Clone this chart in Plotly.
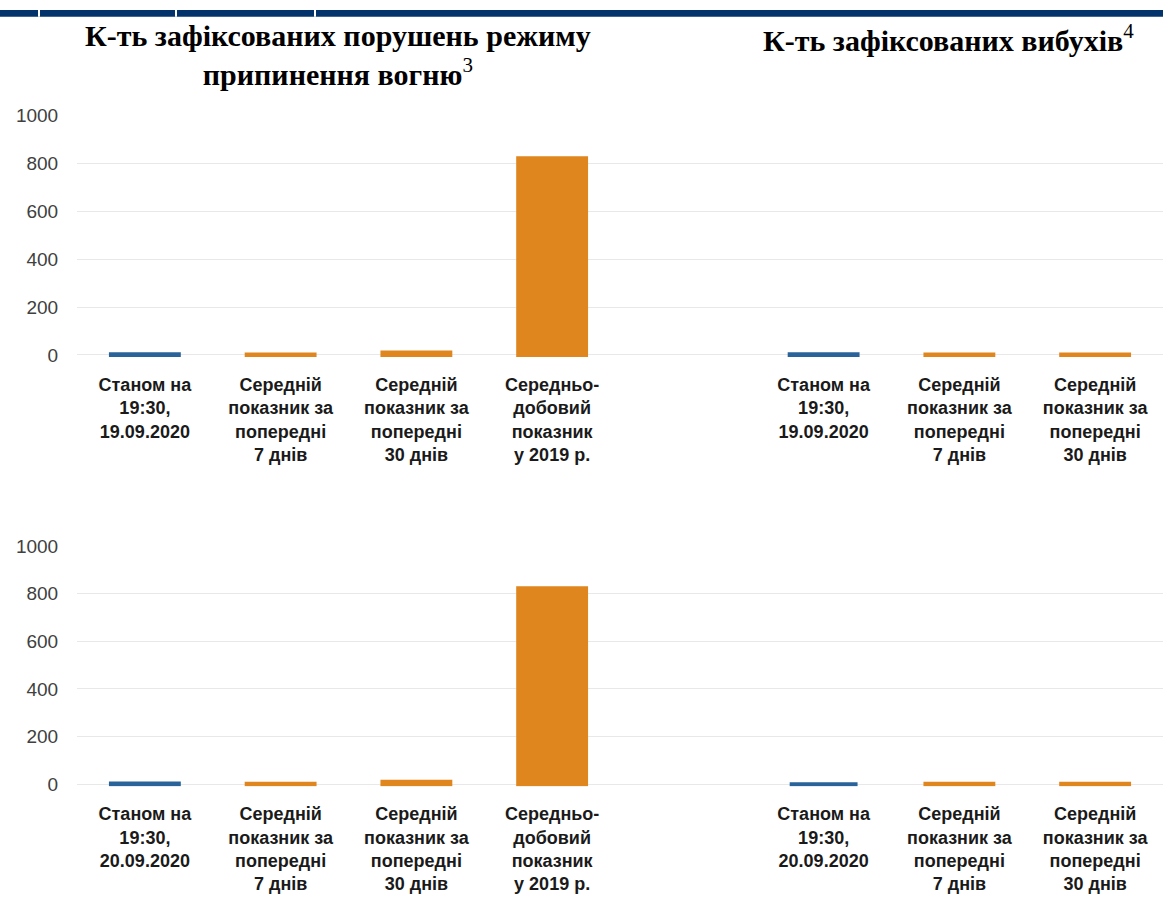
import plotly.graph_objects as go

# ---- data ----
labels_left_19 = ["Станом на<br>19:30,<br>19.09.2020",
                  "Середній<br>показник за<br>попередні<br>7 днів",
                  "Середній<br>показник за<br>попередні<br>30 днів",
                  "Середньо-<br>добовий<br>показник<br>у 2019 р."]
labels_right_19 = ["Станом на<br>19:30,<br>19.09.2020",
                   "Середній<br>показник за<br>попередні<br>7 днів",
                   "Середній<br>показник за<br>попередні<br>30 днів"]
labels_left_20 = ["Станом на<br>19:30,<br>20.09.2020",
                  "Середній<br>показник за<br>попередні<br>7 днів",
                  "Середній<br>показник за<br>попередні<br>30 днів",
                  "Середньо-<br>добовий<br>показник<br>у 2019 р."]
labels_right_20 = ["Станом на<br>19:30,<br>20.09.2020",
                   "Середній<br>показник за<br>попередні<br>7 днів",
                   "Середній<br>показник за<br>попередні<br>30 днів"]

violations_19 = [3, 2, 10, 823]
explosions_19 = [3, 2, 2]
violations_20 = [3, 2, 10, 823]
explosions_20 = [0, 2, 2]

title_left_lines = ["К-ть зафіксованих порушень режиму", "припинення вогню"]
title_left_note = "3"
title_right = "К-ть зафіксованих вибухів"
title_right_note = "4"

y_ticks = [0, 200, 400, 600, 800, 1000]

# ---- styling ----
BLUE = "#2a6399"
ORANGE = "#e0861f"
W, H = 1163, 899
L = 77
PW = W - L

def py(p):
    return 1 - p / H

def px(p):
    return (p - L) / PW

def positions(n_left, n_right):
    left = list(range(n_left))
    right = [n_left + 1 + i for i in range(n_right)]
    return left + right

def colors(n):
    return [BLUE] + [ORANGE] * (n - 1)

fig = go.Figure()

rows = [
    (violations_19, explosions_19, "x", "y"),
    (violations_20, explosions_20, "x2", "y2"),
]
for left_vals, right_vals, xa, ya in rows:
    xs = positions(len(left_vals), len(right_vals))
    cols = colors(len(left_vals)) + colors(len(right_vals))
    vals = left_vals + right_vals
    fig.add_trace(go.Bar(
        x=xs, y=vals, xaxis=xa, yaxis=ya,
        marker=dict(color=cols, line=dict(color=cols, width=4)),
        width=0.5, showlegend=False, hoverinfo="skip"))

n_total = len(labels_left_19) + 1 + len(labels_right_19)
xs_all = positions(len(labels_left_19), len(labels_right_19))

tickfont_x = dict(family="Liberation Sans, Arial", size=18, color="#1a1a1a", weight="bold")
tickfont_y = dict(family="Liberation Sans, Arial", size=19, color="#404040")

common_x = dict(range=[-0.5, n_total - 0.5], tickmode="array", tickvals=xs_all,
                showgrid=False, zeroline=False, showline=False,
                ticks="outside", ticklen=11, tickcolor="rgba(0,0,0,0)",
                tickfont=tickfont_x, tickangle=0, fixedrange=True)
common_y = dict(range=[-10, 1000], tickmode="array", tickvals=y_ticks,
                showgrid=True, gridcolor="#e8e8e8", gridwidth=1,
                zeroline=False, showline=False,
                ticks="outside", ticklen=14, tickcolor="rgba(0,0,0,0)",
                tickfont=tickfont_y, fixedrange=True)

unit = 243.5 / 1000
fig.update_layout(
    width=W, height=H,
    margin=dict(l=L, r=0, t=0, b=0),
    paper_bgcolor="white", plot_bgcolor="white",
    xaxis=dict(common_x, domain=[0, 1], anchor="y", ticktext=labels_left_19 + labels_right_19),
    yaxis=dict(common_y, domain=[py(352 + 10 * unit), py(108)], anchor="x"),
    xaxis2=dict(common_x, domain=[0, 1], anchor="y2", ticktext=labels_left_20 + labels_right_20),
    yaxis2=dict(common_y, domain=[py(790 + 10 * unit), py(547)], anchor="x2"),
)

title_font = dict(family="Liberation Serif, Times New Roman", size=30, color="#000000")
left_text = "<br>".join("<b>" + t + "</b>" for t in title_left_lines) + "<sup>" + title_left_note + "</sup>"
fig.add_annotation(xref="paper", yref="paper", x=px(338), y=py(7),
                   xanchor="center", yanchor="top", showarrow=False,
                   text=left_text, font=title_font, align="center")
fig.add_annotation(xref="paper", yref="paper", x=px(948), y=py(7),
                   xanchor="center", yanchor="top", showarrow=False,
                   text="<b>" + title_right + "</b><sup>" + title_right_note + "</sup>",
                   font=title_font, align="center")

# header band cropped from the page above the chart
fig.add_shape(type="rect", xref="paper", yref="paper", x0=px(0), x1=px(W), y0=py(7), y1=1,
              fillcolor="#02346b", line=dict(width=0), layer="above")
for sx in [39, 176, 315]:
    fig.add_shape(type="line", xref="paper", yref="paper", x0=px(sx), x1=px(sx), y0=py(7), y1=1,
                  line=dict(color="white", width=2), layer="above")

post = (
    "document.documentElement.style.margin='0';"
    "document.documentElement.style.padding='0';"
    "document.documentElement.style.overflow='hidden';"
    "document.body.style.margin='0';"
    "document.body.style.padding='0';"
    "document.body.style.overflow='hidden';"
    "var gd=document.getElementById('{plot_id}');"
    "gd.style.position='fixed';gd.style.top='0px';gd.style.left='0px';"
)
fig.write_html("out.html", config={"displayModeBar": False}, post_script=post)
